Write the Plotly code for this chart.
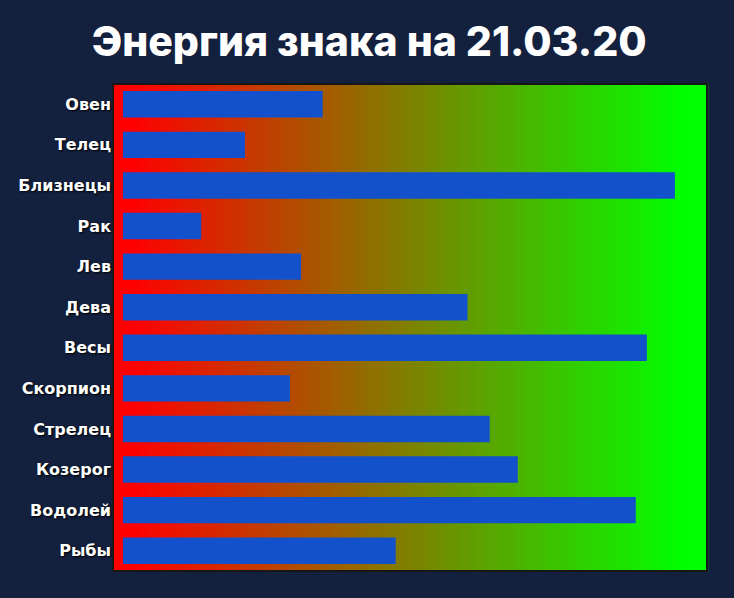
import plotly.graph_objects as go

signs = ["Овен", "Телец", "Близнецы", "Рак", "Лев", "Дева", "Весы",
         "Скорпион", "Стрелец", "Козерог", "Водолей", "Рыбы"]
energy = [34.2, 20.9, 94.5, 13.4, 30.5, 59.0, 89.7, 28.6, 62.8, 67.6, 87.8, 46.7]
title_text = "Энергия знака на 21.03.20"

fig = go.Figure()
fig.add_trace(go.Bar(
    y=signs, x=energy, orientation="h",
    marker=dict(color="#1351cc", line=dict(width=0)),
    hoverinfo="x+y",
))

# red -> green gradient background of the plot area
n = 150
shapes = []
for i in range(n):
    f0 = i / n
    f1 = (i + 1) / n
    t = (f0 + f1) / 2
    t2 = min(max((t - 0.03) / 0.93, 0), 1)
    r = int(round(255 * (1 - t2)))
    g = int(round(255 * t2))
    shapes.append(dict(type="rect", xref="x domain", yref="y domain",
                       x0=f0, x1=f1 + 0.002, y0=0, y1=1,
                       fillcolor=f"rgb({r},{g},0)", line=dict(width=0),
                       layer="below"))
shapes.append(dict(type="rect", xref="x domain", yref="y domain",
                   x0=0, x1=1, y0=0, y1=1,
                   line=dict(color="#161616", width=2), layer="above"))

fig.update_layout(
    width=734, height=598,
    margin=dict(l=113, r=27, t=84, b=27),
    paper_bgcolor="#13203e",
    plot_bgcolor="rgba(0,0,0,0)",
    shapes=shapes,
    bargap=0.35,
    showlegend=False,
    title=dict(text=title_text, x=0.503, xanchor="center", y=0.93, yanchor="middle",
               font=dict(family="Inter", size=41, color="white", weight=800)),
    xaxis=dict(range=[-1.7, 100], showgrid=False, zeroline=False,
               showticklabels=False, ticks=""),
    yaxis=dict(autorange="reversed", showgrid=False, zeroline=False, ticks="",
               ticklabelstandoff=1,
               tickfont=dict(family="DejaVu Sans", size=16, color="white",
                             weight="bold", shadow="1px 1px 2px #000")),
)

fig.write_html("out.html",
               config={"displayModeBar": False},
               post_script="document.body.style.margin='0';"
                           "document.body.style.background='#13203e';")
